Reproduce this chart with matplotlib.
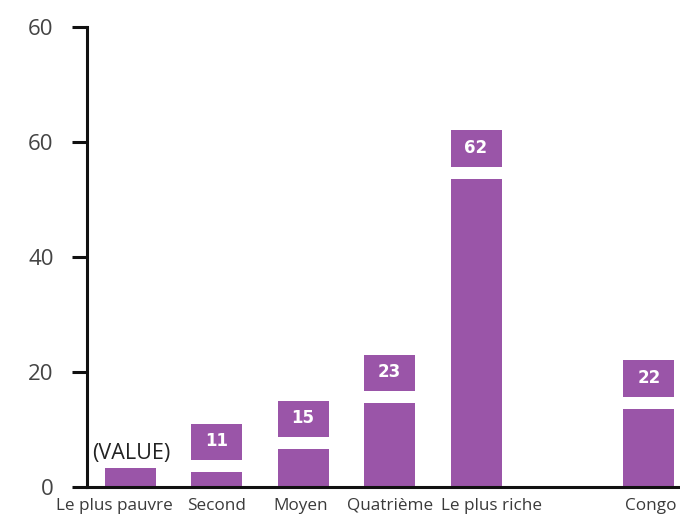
import matplotlib
matplotlib.use("Agg")
import matplotlib.pyplot as plt
from matplotlib.patches import Rectangle

# Data
categories = ["Le plus pauvre", "Second", "Moyen", "Quatrième", "Le plus riche", "Congo"]
positions = [0, 1, 2, 3, 4, 6]
values = [3.3, 11, 15, 23, 62, 22]
value_labels = ["(VALUE)", "11", "15", "23", "62", "22"]
y_ticks = [0, 20, 40, 60, 80]
y_tick_labels = ["0", "20", "40", "60", "60"]

purple = "#9A55A8"
ink = "#111111"
label_font = "Open Sans"

fig = plt.figure(figsize=(6.8, 5.18), dpi=100)
ax = fig.add_axes([0.128, 0.060, 0.872, 0.888])

bar_w = 0.59
box_h = 6.4      # purple label box at the top of each bar
stripe_h = 2.0   # white band under the label box

for pos, val, lab in zip(positions, values, value_labels):
    ax.bar(pos, val, width=bar_w, color=purple, zorder=2)
    if lab.startswith("("):
        ax.text(pos + 0.01, val + 0.6, lab, ha="center", va="bottom",
                fontsize=15.5, color="#222222", family=label_font, zorder=3)
    else:
        stripe_top = val - box_h
        ax.add_patch(Rectangle((pos - bar_w / 2, stripe_top - stripe_h), bar_w,
                               stripe_h, facecolor="white", edgecolor="none",
                               zorder=3))
        ax.text(pos, val - box_h / 2 + 0.2, lab, ha="center", va="center",
                fontsize=12, color="white", fontweight="bold",
                family="DejaVu Sans", zorder=4)

ax.set_xlim(-0.5, 6.36)
ax.set_ylim(0, 80)

ax.set_yticks(y_ticks)
ax.set_yticklabels(y_tick_labels, fontsize=16, color="#444444", family=label_font)
ax.set_xticks([])

# category names on a common baseline; the two long ones are nudged apart
shifts_pt = [-11.5, 0, -2, 0, 11, 1]
for pos, cat, dx in zip(positions, categories, shifts_pt):
    ax.annotate(cat, xy=(pos, 0), xycoords=("data", "axes fraction"),
                xytext=(dx, -16.5), textcoords="offset points",
                ha="center", va="baseline", fontsize=12.3, color="#3a3a3a",
                family=label_font, annotation_clip=False)

ax.tick_params(axis="y", length=11, width=2.2, color=ink, pad=13)

for side in ("top", "right"):
    ax.spines[side].set_visible(False)
for side in ("left", "bottom"):
    ax.spines[side].set_linewidth(2.2)
    ax.spines[side].set_color(ink)
ax.spines["bottom"].set_bounds(-0.5, 6.36)
ax.spines["bottom"].set_zorder(5)

fig.savefig("out.png", dpi=100, facecolor="white")
